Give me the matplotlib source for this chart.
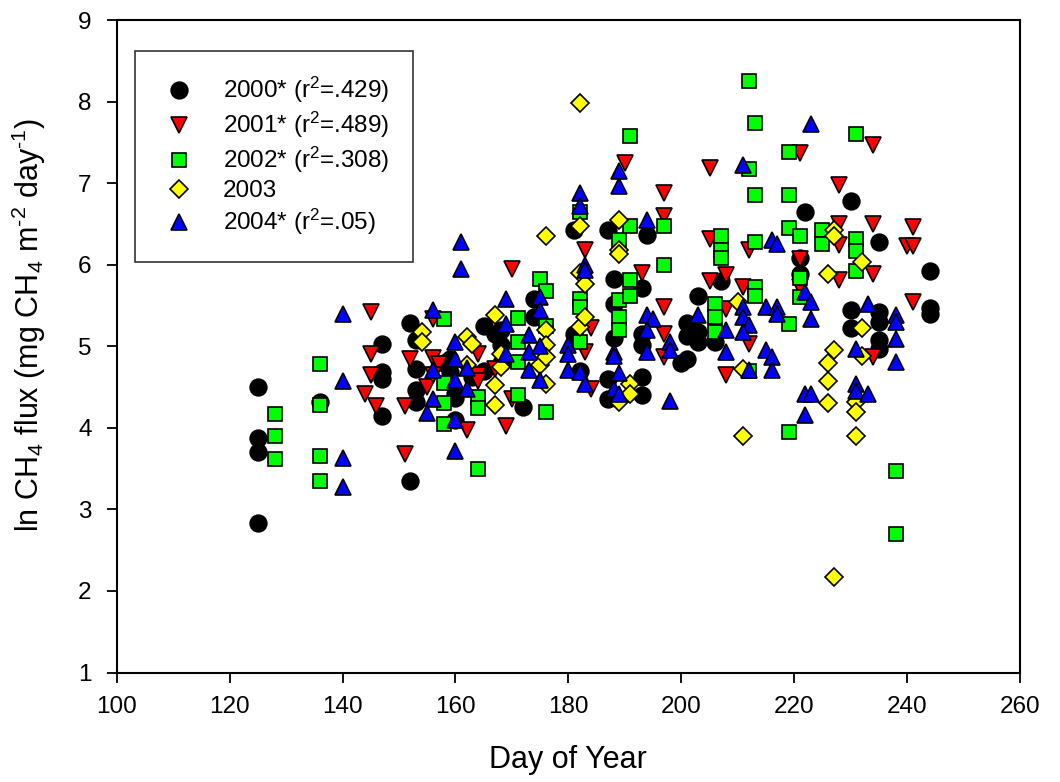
import matplotlib
matplotlib.use("Agg")
import matplotlib.pyplot as plt

plt.rcParams['font.family'] = ['Liberation Sans', 'DejaVu Sans']
plt.rcParams['mathtext.fontset'] = 'custom'
plt.rcParams['mathtext.rm'] = 'Liberation Sans'
plt.rcParams['mathtext.it'] = 'Liberation Sans:italic'
plt.rcParams['mathtext.bf'] = 'Liberation Sans:bold'

# day of year / ln CH4 flux
day_2000 = [125, 125, 125, 125, 136, 147, 147, 147, 147, 152, 152, 153, 153, 153, 153,
            158, 159, 159, 160, 160, 160, 163, 165, 165, 167, 168, 168, 168, 172, 174, 174,
            181, 181, 182, 187, 187, 187, 188, 188, 188, 193, 193, 193, 193, 193, 194,
            200, 201, 201, 201, 203, 203, 203, 206, 207, 221, 221, 222, 230, 230, 230,
            235, 235, 235, 235, 235, 244, 244, 244]
flux_2000 = [4.50, 3.88, 3.70, 2.83, 4.32, 5.03, 4.68, 4.60, 4.14, 5.29, 3.35, 5.08, 4.72, 4.46, 4.32,
             4.80, 4.85, 4.68, 4.42, 4.36, 4.10, 4.62, 5.25, 4.70, 5.15, 5.20, 5.02, 4.80, 4.25, 5.58, 5.36,
             6.42, 5.15, 4.70, 6.42, 4.60, 4.35, 5.82, 5.52, 5.10, 5.72, 5.15, 5.02, 4.62, 4.40, 6.36,
             4.80, 5.28, 5.12, 4.85, 5.62, 5.18, 5.05, 5.05, 5.80, 6.08, 5.88, 6.65, 6.78, 5.45, 5.22,
             6.28, 5.42, 5.30, 5.08, 4.97, 5.92, 5.47, 5.40]

day_2001 = [145, 145, 145, 144, 146, 151, 151, 152, 156, 156, 157, 155, 156,
            162, 164, 164, 164, 167, 169, 170, 170, 183, 183, 184, 184,
            190, 193, 197, 197, 197, 197, 197, 205, 205, 205, 208, 208, 208,
            211, 212, 212, 221, 221, 221, 228, 228, 228, 228,
            234, 234, 234, 234, 240, 241, 241, 241]
flux_2001 = [5.42, 4.90, 4.65, 4.42, 4.27, 4.27, 3.68, 4.85, 4.86, 5.33, 4.78, 4.50, 4.65,
             3.97, 4.90, 4.65, 4.57, 4.72, 4.02, 5.95, 4.35, 6.18, 4.93, 5.22, 4.47,
             7.25, 5.90, 6.88, 6.60, 5.48, 5.15, 4.87, 7.18, 6.32, 5.80, 5.87, 5.46, 4.65,
             5.73, 6.18, 5.03, 7.37, 6.07, 5.73, 6.98, 6.50, 6.24, 5.81,
             7.47, 6.50, 5.88, 4.87, 6.23, 6.23, 6.46, 5.54]

day_2002 = [128, 128, 128, 136, 136, 136, 136, 158, 158, 158, 158, 164, 164, 164,
            171, 171, 171, 171, 175, 176, 176, 176, 182, 182, 182, 182,
            189, 189, 189, 189, 191, 191, 191, 191, 197, 197, 206, 206, 206,
            207, 207, 207, 212, 212, 212, 213, 213, 213, 213, 213,
            219, 219, 219, 219, 219, 221, 221, 221, 225, 225,
            231, 231, 231, 231, 238, 238]
flux_2002 = [4.17, 3.90, 3.62, 4.78, 4.28, 3.65, 3.35, 5.33, 4.55, 4.30, 4.05, 4.38, 4.24, 3.50,
             5.35, 5.05, 4.81, 4.40, 5.83, 5.68, 5.25, 4.19, 6.65, 5.58, 5.48, 5.05,
             6.30, 5.57, 5.36, 5.20, 7.58, 6.47, 5.81, 5.62, 6.47, 6.00, 5.52, 5.36, 5.18,
             6.35, 6.18, 6.08, 8.25, 7.17, 4.70, 7.74, 6.85, 6.28, 5.73, 5.62,
             7.38, 6.85, 6.45, 5.27, 3.95, 6.35, 5.84, 5.60, 6.43, 6.25,
             7.60, 6.32, 6.17, 5.92, 3.47, 2.70]

day_2003 = [154, 154, 162, 163, 162, 167, 168, 168, 167, 167,
            175, 176, 176, 176, 176, 176, 182, 182, 182, 182, 183, 183,
            189, 189, 189, 189, 191, 191, 210, 211, 211,
            226, 226, 226, 226, 227, 227, 227, 227, 231, 231, 231, 232, 232, 232]
flux_2003 = [5.18, 5.05, 5.11, 5.03, 4.77, 5.38, 4.91, 4.75, 4.53, 4.28,
             4.77, 6.35, 5.20, 5.02, 4.87, 4.54, 7.98, 6.47, 5.90, 5.24, 5.36, 5.76,
             6.55, 6.18, 6.13, 4.32, 4.54, 4.42, 5.54, 4.72, 3.90,
             5.88, 4.79, 4.58, 4.30, 6.43, 6.35, 4.95, 2.17, 4.32, 4.19, 3.90, 6.03, 5.22, 4.88]

day_2004 = [140, 140, 140, 140, 156, 156, 156, 155, 160, 160, 160, 160, 160,
            161, 161, 162, 162, 169, 169, 169, 173, 173, 173, 175, 175, 175, 175,
            180, 180, 180, 182, 183, 182, 182, 183, 183,
            188, 188, 188, 189, 189, 189, 189, 194, 194, 195, 194, 194,
            198, 198, 198, 203, 208, 208,
            211, 211, 211, 212, 211, 212, 215, 215, 216, 216, 216, 217, 217, 217,
            222, 222, 222, 223, 223, 223, 223, 231, 231, 231, 233, 233,
            238, 238, 238, 238]
flux_2004 = [5.40, 4.58, 3.63, 3.28, 5.45, 4.71, 4.35, 4.18, 5.05, 4.85, 4.59, 4.10, 3.72,
             6.28, 5.95, 4.73, 4.48, 5.58, 5.27, 4.90, 5.14, 4.93, 4.71, 5.60, 5.44, 5.00, 4.59,
             5.02, 4.90, 4.71, 4.69, 4.54, 6.88, 6.72, 6.00, 5.93,
             4.93, 4.88, 4.48, 4.67, 4.42, 7.15, 6.97, 6.55, 5.38, 5.33, 5.20, 4.93,
             5.05, 4.95, 4.33, 5.38, 5.20, 4.93,
             7.22, 5.48, 5.36, 5.26, 5.17, 4.71, 5.48, 4.95, 4.87, 4.71, 6.30, 6.25, 5.48, 5.40,
             5.66, 4.42, 4.16, 7.72, 5.54, 5.34, 4.42, 4.97, 4.54, 4.45, 5.52, 4.41,
             5.38, 5.30, 5.09, 4.81]

labels = ['2000* (r$^2$=.429)', '2001* (r$^2$=.489)', '2002* (r$^2$=.308)',
          '2003', '2004* (r$^2$=.05)']

fig = plt.figure(figsize=(10.6, 7.82), dpi=100)
ax = fig.add_axes([0.1101, 0.1400, 0.8522, 0.8344])

series = [
    (day_2000, flux_2000, 'o', 'black', 12),
    (day_2001, flux_2001, 'v', 'red', 12),
    (day_2002, flux_2002, 's', '#00FF00', 10.5),
    (day_2003, flux_2003, 'D', 'yellow', 9.5),
    (day_2004, flux_2004, '^', 'blue', 12),
]
for (x, y, m, c, ms), lab in zip(series, labels):
    ax.plot(x, y, linestyle='none', marker=m, markersize=ms, markerfacecolor=c,
            markeredgecolor='black', markeredgewidth=1.2, label=lab)

ax.set_xlim(100, 260)
ax.set_ylim(1, 9)
ax.set_xticks(range(100, 261, 20))
ax.set_yticks(range(1, 10))
ax.tick_params(direction='out', length=7, width=1.3, labelsize=17.5, top=False, right=False)
ax.tick_params(axis='x', pad=10)
ax.tick_params(axis='y', pad=11)
for s in ax.spines.values():
    s.set_linewidth(1.5)

ax.set_xlabel('Day of Year', fontsize=22, labelpad=19)
ax.set_ylabel(r'ln CH$_4$ flux (mg CH$_4$ m$^{\text{-}2}$ day$^{\text{-}1}$)', fontsize=22)
ax.yaxis.set_label_coords(-0.076, 0.533)

leg = ax.legend(loc='upper left', bbox_to_anchor=(0.0203, 0.953), borderaxespad=0,
                fontsize=17.5, frameon=True, fancybox=False, edgecolor='black',
                handletextpad=0.95, labelspacing=0.2, borderpad=1.0, handlelength=1.65)
leg.get_frame().set_linewidth(1.2)

fig.savefig('out.png', dpi=100)
